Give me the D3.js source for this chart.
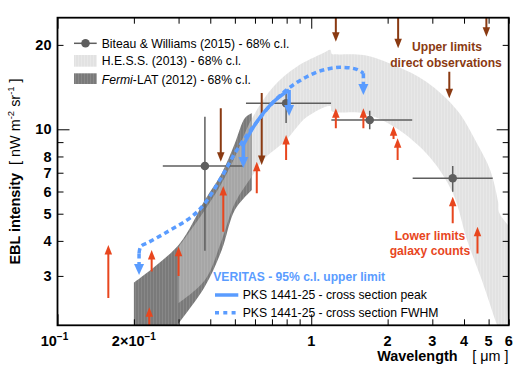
<!DOCTYPE html>
<html><head><meta charset="utf-8">
<script src="https://cdn.jsdelivr.net/npm/d3@7"></script>
<style>body{margin:0;background:#fff}svg{display:block}</style>
</head><body><svg id="c" width="526" height="381"></svg>
<script>
// ---------- DATA ----------
// H.E.S.S. (2013) 68% band: [wavelength um, nW m^-2 sr^-1]
const hessUpper = [[0.30,3.80],[0.381,5.15],[0.444,6.43],[0.50,7.96],[0.583,10.9],[0.709,14.19],[0.877,16.72],[1.116,18.7],[1.19,19.2],[1.205,18.55],[1.26,18.5],[1.605,18.4],[2.16,16.81],[2.85,14.74],[3.75,11.71],[4.49,8.94],[5.07,7.16],[5.45,5.5],[5.5,5.05],[6.3,4.3]];
const hessLower = [[0.30,2.40],[0.381,2.90],[0.444,4.03],[0.50,5.46],[0.583,6.78],[0.646,7.77],[0.796,9.16],[0.96,11.06],[1.19,12.1],[1.205,11.6],[1.605,11.4],[2.16,10.1],[2.95,7.9],[3.62,5.9],[4.11,4.03],[4.7,2.9],[5.4,2.0],[5.8,1.7]];
// Fermi-LAT (2012) 68% band
const fermiUpper = [[0.2,2.84],[0.3,3.87],[0.381,5.60],[0.444,6.97],[0.50,8.91],[0.548,10.97],[0.583,11.4]];
const fermiLower = [[0.2,1.5],[0.285,1.9],[0.30,2.03],[0.381,2.75],[0.444,3.71],[0.50,5.15],[0.583,6.07]];
// Biteau & Williams (2015)
const bwLambda   = [0.381, 0.796, 1.70, 3.61];
const bwValue    = [7.40, 12.38, 10.79, 6.69];
const bwLambdaLo = [0.260, 0.553, 1.20, 2.51];
const bwLambdaHi = [0.538, 1.197, 2.50, 5.19];
const bwValueLo  = [3.69, 10.53, 10.0, 5.99];
const bwValueHi  = [11.09, 13.8, 11.65, 7.40];
// Upper limits, direct observations (arrow from -> to)
const ulLambda = [0.44, 0.638, 1.25, 2.2, 3.5, 4.9];
const ulFrom   = [11.88, 13.47, 30, 30, 16.05, 30];
const ulTo     = [7.66, 7.46, 20.52, 19.44, 12.89, 21.39];
// Lower limits, galaxy counts (arrow from -> to)
const llLambda = [0.1586, 0.235, 0.30, 0.230, 0.450, 0.61, 0.796, 1.25, 1.605, 2.11, 2.19, 3.61, 4.52];
const llFrom   = [2.50, 3.11, 3.00, 1.9, 4.31, 5.91, 7.77, 10.08, 10.08, 9.23, 7.77, 4.62, 3.61];
const llTo     = [3.87, 3.71, 3.81, 2.32, 6.28, 7.66, 9.54, 11.88, 11.88, 10.25, 9.29, 5.75, 4.49];
// VERITAS PKS 1441-25 upper limits
const peakLambda = [0.54, 0.61, 0.709, 0.818];
const peakValue  = [8.79, 10.62, 12.51, 13.8];
const peakArrowTo = [7.28, 11.15];
const fwhmLambda = [0.2096, 0.213, 0.228, 0.265, 0.338, 0.381, 0.444, 0.50, 0.548, 0.61, 0.709, 0.818, 0.96, 1.116, 1.299, 1.511, 1.605];
const fwhmValue  = [3.61, 3.82, 3.95, 4.26, 4.88, 5.45, 6.78, 8.21, 9.31, 10.62, 12.51, 14.04, 15.40, 16.27, 16.63, 16.36, 15.84];
const fwhmArrowTo = [3.02, 13.25];
// Axes
const xTickValues = [0.1,0.2,0.3,0.4,0.5,0.6,0.7,0.8,0.9,1,2,3,4,5,6];
const xMajorTicks = [0.1,1];
const xLabelValues = [0.1,0.2,1,2,3,4,5,6];
const xLabelText = ["10^-1","2×10^-1","1","2","3","4","5","6"];
const yTickValues = [3,4,5,6,7,8,9,10,20];
const yMajorTicks = [10];
const yLabelValues = [3,4,5,6,7,8,10,20];

// ---------- DRAW ----------
const svg = d3.select("#c");
const FONT = "'Liberation Sans', Arial, Helvetica, sans-serif";
const X0=57.5, X1=508.7, Y0=17.7, Y1=325.3;
const x = d3.scaleLog().domain([0.1,6]).range([X0,X1]);
const y = d3.scaleLog().domain([2,25]).range([Y1,Y0]);
const BLUE="#5a9cff", BROWN="#8a3a12", RED="#e8461e", GREY="#5e5e5e";

const defs = svg.append("defs");
defs.append("clipPath").attr("id","plot").append("rect")
  .attr("x",X0).attr("y",Y0).attr("width",X1-X0).attr("height",Y1-Y0);
function stripes(id, base, line){
  const p = defs.append("pattern").attr("id",id).attr("patternUnits","userSpaceOnUse").attr("width",3).attr("height",10);
  p.append("rect").attr("width",3).attr("height",10).attr("fill",base);
  p.append("rect").attr("width",1).attr("height",10).attr("fill",line);
}
stripes("fermiPat","#7a7a7a","#888");
stripes("hessPat","#e2e2e2","#e8e8e8");
stripes("overPat","#a6a6a6","#aeaeae");

const curve = d3.line().x(d=>x(d[0])).y(d=>y(d[1])).curve(d3.curveCatmullRom.alpha(0.5));
function band(up, lo){ return curve(up) + "L" + curve(lo.slice().reverse()).slice(1) + "Z"; }
const fermiPath = band(fermiUpper, fermiLower);
const hessPath = band(hessUpper, hessLower);
defs.append("clipPath").attr("id","fermiClip").append("path").attr("d",fermiPath);

const plot = svg.append("g").attr("clip-path","url(#plot)");
plot.append("path").attr("d",hessPath).attr("fill","url(#hessPat)");
plot.append("path").attr("d",fermiPath).attr("fill","url(#fermiPat)");
plot.append("g").attr("clip-path","url(#fermiClip)").append("path").attr("d",hessPath).attr("fill","url(#overPat)");

// arrows helper
function arrow(g, x0, yFrom, yTo, color, w, hw, hl){
  const dir = yTo > yFrom ? 1 : -1;
  g.append("line").attr("x1",x0).attr("x2",x0).attr("y1",yFrom).attr("y2",yTo - dir*hl*0.9)
    .attr("stroke",color).attr("stroke-width",w);
  g.append("path").attr("d",`M${x0-hw/2},${yTo-dir*hl}L${x0+hw/2},${yTo-dir*hl}L${x0},${yTo}Z`).attr("fill",color);
}

// Biteau & Williams
const bw = plot.append("g");
bwLambda.forEach((l,i)=>{
  bw.append("line").attr("x1",x(bwLambdaLo[i])).attr("x2",x(bwLambdaHi[i])).attr("y1",y(bwValue[i])).attr("y2",y(bwValue[i]))
    .attr("stroke",GREY).attr("stroke-width",1.5);
  bw.append("line").attr("x1",x(l)).attr("x2",x(l)).attr("y1",y(bwValueLo[i])).attr("y2",y(bwValueHi[i]))
    .attr("stroke",GREY).attr("stroke-width",1.5);
  bw.append("circle").attr("cx",x(l)).attr("cy",y(bwValue[i])).attr("r",4.3).attr("fill",GREY);
});

// upper limits (brown)
const ul = plot.append("g");
ulLambda.forEach((l,i)=> arrow(ul, x(l), y(ulFrom[i]), y(ulTo[i]), BROWN, 2, 7.5, 9.5));
// lower limits (red)
const ll = plot.append("g");
llLambda.forEach((l,i)=> arrow(ll, x(l), y(llFrom[i]), y(llTo[i]), RED, 2, 7.5, 9.5));

// VERITAS
const ver = plot.append("g");
const peakPts = peakLambda.map((l,i)=>[l,peakValue[i]]);
ver.append("path").attr("d",curve(peakPts)).attr("fill","none").attr("stroke",BLUE).attr("stroke-width",3.5);
arrow(ver, x(peakLambda[0]), y(peakValue[0]), y(peakArrowTo[0]), BLUE, 3.5, 10, 11);
arrow(ver, x(peakLambda[peakLambda.length-1]), y(peakValue[peakValue.length-1]), y(peakArrowTo[1]), BLUE, 3.5, 10, 11);
const fwhmPts = fwhmLambda.map((l,i)=>[l,fwhmValue[i]]);
ver.append("path").attr("d",curve(fwhmPts)).attr("fill","none").attr("stroke",BLUE).attr("stroke-width",3.5)
  .attr("stroke-dasharray","5,3.5");
[[0,fwhmArrowTo[0]],[fwhmLambda.length-1,fwhmArrowTo[1]]].forEach(([k,to])=>{
  const xx = x(fwhmLambda[k]), yf = y(fwhmValue[k]), yt = y(to);
  ver.append("line").attr("x1",xx).attr("x2",xx).attr("y1",yf).attr("y2",yt-10)
    .attr("stroke",BLUE).attr("stroke-width",3.5).attr("stroke-dasharray","5,3.5");
  ver.append("path").attr("d",`M${xx-5},${yt-11}L${xx+5},${yt-11}L${xx},${yt}Z`).attr("fill",BLUE);
});

// ---------- AXES ----------
function styleAxis(g){ g.select(".domain").remove(); g.selectAll(".tick line").attr("stroke","#000").attr("stroke-width",1); }
svg.append("g").attr("transform",`translate(0,${Y1})`)
  .call(d3.axisBottom(x).tickValues(xTickValues).tickSizeInner(-6).tickSizeOuter(0).tickFormat(""))
  .call(styleAxis).call(g=>g.selectAll(".tick line").attr("y2",d=>xMajorTicks.includes(d)?-11:-6));
svg.append("g").attr("transform",`translate(0,${Y0})`)
  .call(d3.axisTop(x).tickValues(xTickValues).tickSizeInner(-6).tickSizeOuter(0).tickFormat(""))
  .call(styleAxis).call(g=>g.selectAll(".tick line").attr("y2",d=>xMajorTicks.includes(d)?11:6));
svg.append("g").attr("transform",`translate(${X0},0)`)
  .call(d3.axisLeft(y).tickValues(yTickValues).tickSizeInner(-6).tickSizeOuter(0).tickFormat(""))
  .call(styleAxis).call(g=>g.selectAll(".tick line").attr("x2",d=>yMajorTicks.includes(d)?12:6));
svg.append("g").attr("transform",`translate(${X1},0)`)
  .call(d3.axisRight(y).tickValues(yTickValues).tickSizeInner(-6).tickSizeOuter(0).tickFormat(""))
  .call(styleAxis).call(g=>g.selectAll(".tick line").attr("x2",d=>yMajorTicks.includes(d)?-12:-6));
svg.append("rect").attr("x",X0).attr("y",Y0).attr("width",X1-X0).attr("height",Y1-Y0)
  .attr("fill","none").attr("stroke","#000").attr("stroke-width",1.8);

// tick labels
xLabelValues.forEach((v,i)=>{
  const parts = xLabelText[i].split("^");
  const t = svg.append("text").attr("x",x(v) - (parts.length>1 && i===0 ? 3 : 0)).attr("y",346)
    .attr("text-anchor","middle").attr("font-family",FONT).attr("font-weight","bold").attr("font-size",14.5);
  t.append("tspan").text(parts[0]);
  if(parts.length>1) t.append("tspan").attr("dy",-6).attr("font-size",10).text(parts[1].replace("-","\u2212"));
});
yLabelValues.forEach(v=>{
  svg.append("text").attr("x",51.5).attr("y",y(v)+5.2).attr("text-anchor","end")
    .attr("font-family",FONT).attr("font-weight","bold").attr("font-size",14.5).text(v);
});

// axis titles
svg.append("text").attr("x",377.3).attr("y",361).attr("font-family",FONT).attr("font-weight","bold")
  .attr("font-size",14.4).text("Wavelength");
svg.append("text").attr("x",472.3).attr("y",361).attr("font-family",FONT).attr("font-size",14.4).text("[ \u03bcm ]");
const yt = svg.append("text").attr("transform","translate(20,171.5) rotate(-90)").attr("text-anchor","middle")
  .attr("font-family",FONT).attr("font-size",14.4);
yt.append("tspan").attr("font-weight","bold").text("EBL intensity");
yt.append("tspan").text("\u00a0 [ nW m");
yt.append("tspan").attr("dy",-6).attr("font-size",9.5).text("-2");
yt.append("tspan").attr("dy",6).text(" sr");
yt.append("tspan").attr("dy",-6).attr("font-size",9.5).text("-1");
yt.append("tspan").attr("dy",6).text(" ]");

// ---------- LEGEND ----------
const lg = svg.append("g").attr("font-family",FONT).attr("font-size",12.2);
lg.append("line").attr("x1",74).attr("x2",96.7).attr("y1",43.3).attr("y2",43.3).attr("stroke",GREY).attr("stroke-width",1.5);
lg.append("circle").attr("cx",85.5).attr("cy",43.3).attr("r",4.3).attr("fill",GREY);
lg.append("text").attr("x",101.7).attr("y",47.6).text("Biteau & Williams (2015) - 68% c.l.");
lg.append("rect").attr("x",74).attr("y",55).attr("width",22.7).attr("height",11.7).attr("fill","url(#hessPat)");
lg.append("text").attr("x",101.7).attr("y",65.3).text("H.E.S.S. (2013) - 68% c.l.");
lg.append("rect").attr("x",74).attr("y",73.3).attr("width",22.7).attr("height",10.7).attr("fill","url(#fermiPat)");
const ft = lg.append("text").attr("x",101.7).attr("y",83.5);
ft.append("tspan").attr("font-style","italic").text("Fermi");
ft.append("tspan").text("-LAT (2012) - 68% c.l.");

svg.append("text").attr("x",213.3).attr("y",281).attr("font-family",FONT).attr("font-weight","bold")
  .attr("font-size",12.1).attr("fill",BLUE).text("VERITAS - 95% c.l. upper limit");
svg.append("line").attr("x1",215).attr("x2",238.3).attr("y1",295).attr("y2",295).attr("stroke",BLUE).attr("stroke-width",3.5);
svg.append("text").attr("x",242.7).attr("y",299.3).attr("font-family",FONT).attr("font-size",12.2).text("PKS 1441-25 - cross section peak");
svg.append("line").attr("x1",215).attr("x2",238.3).attr("y1",312.7).attr("y2",312.7).attr("stroke",BLUE).attr("stroke-width",3.5)
  .attr("stroke-dasharray","4,4.3");
svg.append("text").attr("x",242.7).attr("y",317).attr("font-family",FONT).attr("font-size",12.2).text("PKS 1441-25 - cross section FWHM");

// annotations
const ann = svg.append("g").attr("font-family",FONT).attr("font-weight","bold").attr("font-size",12.1).attr("text-anchor","middle");
ann.append("text").attr("x",447).attr("y",51).attr("fill",BROWN).text("Upper limits");
ann.append("text").attr("x",446).attr("y",67).attr("fill",BROWN).text("direct observations");
ann.append("text").attr("x",430).attr("y",239.5).attr("fill",RED).text("Lower limits");
ann.append("text").attr("x",430).attr("y",254.5).attr("fill",RED).text("galaxy counts");
</script></body></html>
